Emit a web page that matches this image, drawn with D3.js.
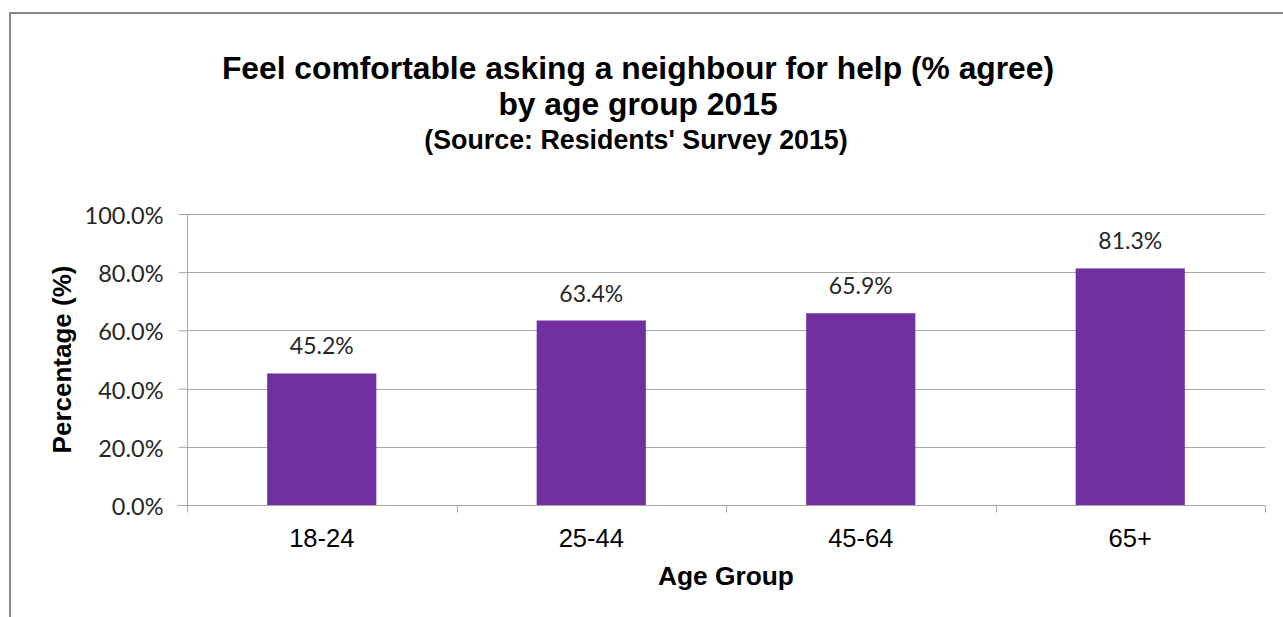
<!DOCTYPE html>
<html>
<head>
<meta charset="utf-8">
<script src="https://cdn.jsdelivr.net/npm/d3@7"></script>
<style>
  html, body { margin: 0; padding: 0; background: #fff; }
  svg { display: block; }
</style>
</head>
<body>
<svg id="chart" width="1283" height="617"></svg>
<script>
// Survey results: share who agree they feel comfortable asking a neighbour for help
const ageGroups = ["18-24", "25-44", "45-64", "65+"];
const agreePct = [45.2, 63.4, 65.9, 81.3];
const yTicks = [0, 20, 40, 60, 80, 100];

const titleLines = [
  "Feel comfortable asking a neighbour for help (% agree)",
  "by age group 2015"
];
const subtitle = "(Source: Residents' Survey 2015)";
const xTitle = "Age Group";
const yTitle = "Percentage (%)";

const W = 1283, H = 617;
const plot = { left: 187, right: 1265, top: 214, bottom: 505 };
const barRatio = 0.405;
const barColor = "#7030A0";
const axisGrey = "#a6a6a6";
const boldFont = "'Liberation Sans', Arial, sans-serif";
const labelFont = "Lato, 'Open Sans', sans-serif";

const svg = d3.select("#chart");

// chart area outline (only top and left edges fall inside the view)
svg.append("path")
  .attr("d", `M10,${H + 2} L10,13 L${W + 2},13`)
  .attr("fill", "none")
  .attr("stroke", "#888")
  .attr("stroke-width", 2);

const x = d3.scaleBand()
  .domain(ageGroups)
  .range([plot.left, plot.right])
  .padding(0);

const y = d3.scaleLinear()
  .domain([0, 100])
  .range([plot.bottom, plot.top]);

// horizontal gridlines
svg.append("g")
  .selectAll("line")
  .data(yTicks.filter(t => t > 0))
  .join("line")
  .attr("x1", plot.left)
  .attr("x2", plot.right)
  .attr("y1", d => Math.round(y(d)) + 0.5)
  .attr("y2", d => Math.round(y(d)) + 0.5)
  .attr("stroke", axisGrey)
  .attr("stroke-width", 1);

// bars
const bw = x.bandwidth() * barRatio;
svg.append("g")
  .selectAll("rect")
  .data(ageGroups.map((g, i) => ({ g, v: agreePct[i] })))
  .join("rect")
  .attr("x", d => x(d.g) + (x.bandwidth() - bw) / 2)
  .attr("y", d => y(d.v))
  .attr("width", bw)
  .attr("height", d => y(0) - y(d.v))
  .attr("fill", barColor);

// value labels
svg.append("g")
  .selectAll("text")
  .data(ageGroups.map((g, i) => ({ g, v: agreePct[i] })))
  .join("text")
  .attr("x", d => x(d.g) + x.bandwidth() / 2)
  .attr("y", d => y(d.v) - 19)
  .attr("text-anchor", "middle")
  .attr("font-family", labelFont)
  .attr("font-size", 23)
  .attr("fill", "#262626")
  .text(d => d.v.toFixed(1) + "%");

// y axis
const yAxis = d3.axisLeft(y)
  .tickValues(yTicks)
  .tickSize(9)
  .tickPadding(15)
  .tickFormat(d => d.toFixed(1) + "%");

const gy = svg.append("g")
  .attr("transform", `translate(${plot.left + 0.5},0)`)
  .call(yAxis);
gy.select(".domain").attr("stroke", axisGrey).attr("d", `M0,${plot.top}V${plot.bottom}`);
gy.selectAll(".tick line").attr("stroke", axisGrey);
gy.selectAll(".tick text")
  .attr("font-family", labelFont)
  .attr("font-size", 23.5)
  .attr("fill", "#262626")
  .attr("dy", "0.4em");

// x axis: ticks at category boundaries
const gx = svg.append("g")
  .attr("transform", `translate(0,${plot.bottom + 0.5})`);
gx.append("line")
  .attr("x1", plot.left - 9)
  .attr("x2", plot.right)
  .attr("stroke", axisGrey);
const boundaries = ageGroups.map(g => x(g)).concat([x(ageGroups[ageGroups.length - 1]) + x.bandwidth()]);
gx.selectAll("line.bt")
  .data(boundaries)
  .join("line")
  .attr("class", "bt")
  .attr("x1", d => Math.round(d) + 0.5)
  .attr("x2", d => Math.round(d) + 0.5)
  .attr("y1", 0)
  .attr("y2", 7)
  .attr("stroke", axisGrey);
gx.selectAll("text")
  .data(ageGroups)
  .join("text")
  .attr("x", d => x(d) + x.bandwidth() / 2)
  .attr("y", 41)
  .attr("text-anchor", "middle")
  .attr("font-family", boldFont)
  .attr("font-size", 25.5)
  .attr("fill", "#000")
  .text(d => d);

// titles
const cx = 638;
svg.append("text")
  .attr("x", cx).attr("y", 79)
  .attr("text-anchor", "middle")
  .attr("font-family", boldFont)
  .attr("font-weight", "bold")
  .attr("font-size", 31.8)
  .text(titleLines[0]);
svg.append("text")
  .attr("x", cx).attr("y", 115)
  .attr("text-anchor", "middle")
  .attr("font-family", boldFont)
  .attr("font-weight", "bold")
  .attr("font-size", 31.8)
  .text(titleLines[1]);
svg.append("text")
  .attr("x", 636).attr("y", 149)
  .attr("text-anchor", "middle")
  .attr("font-family", boldFont)
  .attr("font-weight", "bold")
  .attr("font-size", 26.8)
  .text(subtitle);

// axis titles
svg.append("text")
  .attr("x", (plot.left + plot.right) / 2)
  .attr("y", 585)
  .attr("text-anchor", "middle")
  .attr("font-family", boldFont)
  .attr("font-weight", "bold")
  .attr("font-size", 26.3)
  .text(xTitle);
svg.append("text")
  .attr("transform", `translate(71,${(plot.top + plot.bottom) / 2}) rotate(-90)`)
  .attr("text-anchor", "middle")
  .attr("font-family", boldFont)
  .attr("font-weight", "bold")
  .attr("font-size", 26)
  .text(yTitle);
</script>
</body>
</html>
